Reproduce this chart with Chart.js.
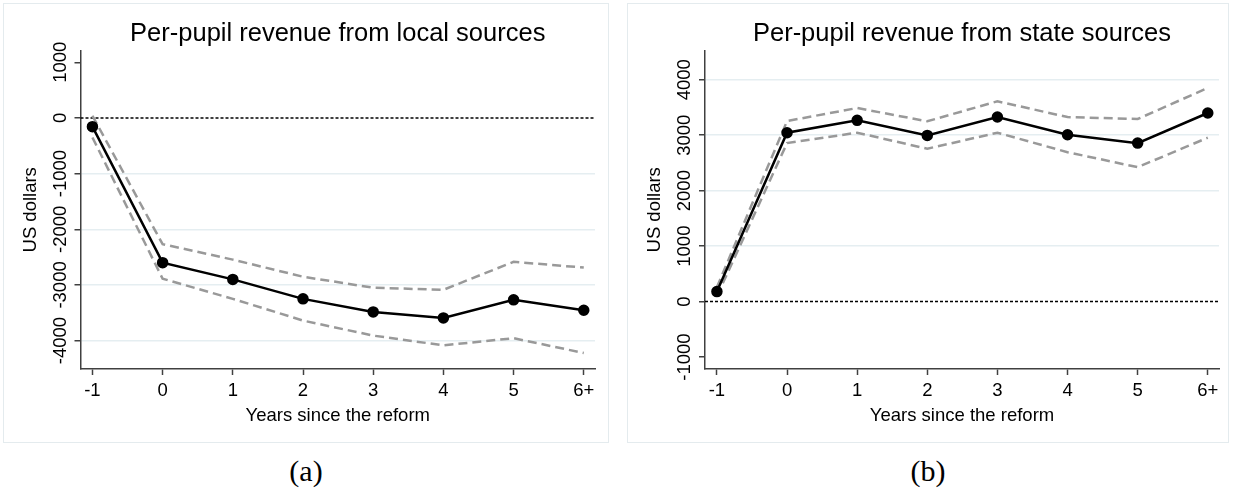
<!DOCTYPE html>
<html>
<head>
<meta charset="utf-8">
<script src="https://cdn.jsdelivr.net/npm/chart.js@4.4.0/dist/chart.umd.min.js"></script>
<style>
  html, body { margin: 0; padding: 0; background: #fff; }
  body { width: 1233px; height: 491px; position: relative; overflow: hidden; }
  .frame { position: absolute; top: 3px; height: 440px; border: 1px solid #e4ebee; box-sizing: border-box; }
  .frame canvas { position: absolute; left: 0; top: 0; }
  .caption { position: absolute; top: 454px; width: 80px; margin-left: -40px; text-align: center;
             font-family: 'Liberation Serif', 'Times New Roman', serif; font-size: 30px; color: #000; }
</style>
</head>
<body>
<div class="frame" style="left:3px; width:606px;"><canvas id="localChart" width="606" height="440"></canvas></div>
<div class="frame" style="left:627px; width:602px;"><canvas id="stateChart" width="602" height="440"></canvas></div>
<div class="caption" style="left:306px;">(a)</div>
<div class="caption" style="left:928px;">(b)</div>

<script>
// years since reform, last bucket is 6+
const years = [-1, 0, 1, 2, 3, 4, 5, 6];
const yearLabels = ['-1', '0', '1', '2', '3', '4', '5', '6+'];

// panel (a): local sources
const localEst   = [-156, -2600, -2900, -3250, -3484, -3592, -3268, -3455];
const localUpper = [40, -2268, -2545, -2852, -3050, -3087, -2585, -2688];
const localLower = [-350, -2888, -3250, -3640, -3910, -4085, -3957, -4222];
const localTicks = [-4000, -3000, -2000, -1000, 0, 1000];

// panel (b): state sources
const stateEst   = [180, 3045, 3268, 2996, 3327, 3009, 2857, 3400];
const stateUpper = [260, 3255, 3490, 3250, 3611, 3327, 3292, 3852];
const stateLower = [100, 2857, 3045, 2756, 3045, 2694, 2423, 2955];
const stateTicks = [-1000, 0, 1000, 2000, 3000, 4000];

const FONT = "'Liberation Sans', Arial, sans-serif";
const AXIS = '#404040';

Chart.defaults.font.family = FONT;
Chart.defaults.color = '#000';

/**
 * zero reference line + rotated y tick labels (Stata style)
 */
const stataY = {
    id: 'stataY',
    beforeDatasetsDraw(chart) {
        const { ctx, chartArea, scales: { y } } = chart;
        const py = y.getPixelForValue(0);
        ctx.save();
        ctx.strokeStyle = '#000';
        ctx.lineWidth = 1.5;
        ctx.setLineDash([3, 2]);
        ctx.beginPath();
        ctx.moveTo(chartArea.left, py);
        ctx.lineTo(chartArea.right, py);
        ctx.stroke();
        ctx.restore();
    },
    afterDraw(chart) {
        const { ctx, scales: { y } } = chart;
        ctx.save();
        ctx.font = '18.5px ' + FONT;
        ctx.fillStyle = '#000';
        ctx.textAlign = 'center';
        ctx.textBaseline = 'middle';
        y.ticks.forEach(t => {
            ctx.save();
            ctx.translate(y.right - 20, y.getPixelForValue(t.value));
            ctx.rotate(-Math.PI / 2);
            ctx.fillText(String(t.value), 0, 0);
            ctx.restore();
        });
        ctx.restore();
    }
};

function points(vals) {
    return years.map((x, i) => ({ x: x, y: vals[i] }));
}

function makePanel(id, title, est, upper, lower, ticks, yMin, yMax, hideGrid, yWidth, rightPad) {
    const ctx = document.getElementById(id);
    const ciStyle = {
        borderColor: '#999999',
        borderWidth: 2.5,
        borderDash: [9, 5],
        pointRadius: 0,
        tension: 0,
        order: 2
    };
    return new Chart(ctx, {
        type: 'line',
        data: {
            datasets: [
                {
                    label: 'estimate',
                    data: points(est),
                    borderColor: '#000',
                    backgroundColor: '#000',
                    borderWidth: 2.5,
                    pointRadius: 4.5,
                    pointBackgroundColor: '#000',
                    tension: 0,
                    order: 1
                },
                Object.assign({ label: 'upper', data: points(upper) }, ciStyle),
                Object.assign({ label: 'lower', data: points(lower) }, ciStyle)
            ]
        },
        options: {
            responsive: false,
            animation: false,
            devicePixelRatio: 1,
            layout: { padding: { left: 10, right: rightPad, top: 0, bottom: 0 } },
            plugins: {
                legend: { display: false },
                tooltip: { enabled: false },
                title: {
                    display: true,
                    text: title,
                    fullSize: false,
                    color: '#000',
                    font: { size: 25.5, weight: 'normal' },
                    padding: { top: 15, bottom: 1 }
                }
            },
            scales: {
                x: {
                    type: 'linear',
                    min: -1.17,
                    max: 6.16,
                    afterBuildTicks: s => { s.ticks = years.map(v => ({ value: v })); },
                    afterFit: s => { s.height = 75; },
                    ticks: {
                        padding: 5,
                        font: { size: 18.5 },
                        color: '#000',
                        maxRotation: 0,
                        callback: v => yearLabels[years.indexOf(v)]
                    },
                    grid: {
                        drawOnChartArea: false,
                        tickLength: 6,
                        tickColor: AXIS,
                        tickWidth: 1.5
                    },
                    border: { color: AXIS, width: 1.5 },
                    title: {
                        display: true,
                        text: 'Years since the reform',
                        color: '#000',
                        font: { size: 18.5 },
                        padding: { top: 0, bottom: 17 }
                    }
                },
                y: {
                    min: yMin,
                    max: yMax,
                    afterBuildTicks: s => { s.ticks = ticks.map(v => ({ value: v })); },
                    afterFit: s => { s.width = yWidth; },
                    ticks: { display: false },
                    grid: {
                        color: c => (c.tick && (c.tick.value === 0 || c.tick.value === hideGrid)) ? 'rgba(0,0,0,0)' : '#e5eef1',
                        lineWidth: 1.5,
                        tickLength: 6,
                        tickColor: AXIS,
                        tickWidth: 1.5
                    },
                    border: { color: AXIS, width: 1.5 },
                    title: {
                        display: true,
                        text: 'US dollars',
                        color: '#000',
                        font: { size: 18.5 },
                        padding: { top: 6, bottom: 0 }
                    }
                }
            }
        },
        plugins: [stataY]
    });
}

makePanel('localChart', 'Per-pupil revenue from local sources',
    localEst, localUpper, localLower, localTicks, -4510, 1210, 1000, 66.5, 15);
makePanel('stateChart', 'Per-pupil revenue from state sources',
    stateEst, stateUpper, stateLower, stateTicks, -1215, 4525, -1000, 67, 11);
</script>
</body>
</html>
